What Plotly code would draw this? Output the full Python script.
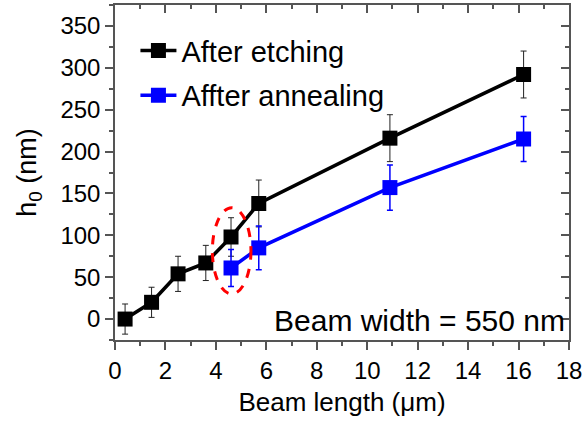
import plotly.graph_objects as go

# Data
x_etch = [0.4, 1.45, 2.5, 3.6, 4.6, 5.7, 10.9, 16.2]
y_etch = [0, 20, 54, 67, 98, 138, 216, 292]
e_etch = [18, 18, 21, 21, 23, 28, 28, 28]

x_anneal = [4.6, 5.7, 10.9, 16.2]
y_anneal = [61, 85, 157, 215]
e_anneal = [22, 26, 27, 27]

x_ticks = [0, 2, 4, 6, 8, 10, 12, 14, 16, 18]
y_ticks = [0, 50, 100, 150, 200, 250, 300, 350]

axis_color = "#555555"
font = "Liberation Sans, Arial, sans-serif"

fig = go.Figure()
fig.add_trace(go.Scatter(
    x=x_etch, y=y_etch, mode="lines+markers", name="After etching", legendgroup="a",
    line=dict(color="black", width=3.5),
    marker=dict(symbol="square", size=15, color="black"),
    error_y=dict(type="data", array=e_etch, color="#222222", thickness=1, width=3),
))
fig.add_trace(go.Scatter(
    x=x_anneal, y=y_anneal, mode="lines+markers", name="Affter annealing", legendgroup="b",
    line=dict(color="#0000ff", width=3.5),
    marker=dict(symbol="square", size=15, color="#0000ff"),
    error_y=dict(type="data", array=e_anneal, color="#0000ff", thickness=1.5, width=3),
))
# invisible trace for mirrored top/right axes
fig.add_trace(go.Scatter(x=[0], y=[0], xaxis="x2", yaxis="y2", mode="markers",
                         marker=dict(opacity=0), showlegend=False, hoverinfo="skip"))

fig.add_shape(type="circle", xref="x", yref="y", x0=3.86, x1=5.39, y0=30, y1=133,
              line=dict(color="red", width=3, dash="dash"))

fig.add_annotation(x=1, y=0, xref="paper", yref="paper", xanchor="right", yanchor="bottom",
                   xshift=-2, yshift=1,
                   text="Beam width = 550 nm", showarrow=False,
                   font=dict(size=30, color="black", family=font))

common = dict(showgrid=False, zeroline=False, showline=True, linecolor=axis_color, linewidth=1.5)

fig.update_layout(
    width=587, height=426,
    margin=dict(l=115, r=15, t=5, b=86),
    paper_bgcolor="white", plot_bgcolor="white",
    font=dict(family=font, color="black", size=24),
    showlegend=True,
    legend=dict(x=0.045, y=0.94, xanchor="left", yanchor="top", bgcolor="rgba(0,0,0,0)",
                font=dict(size=29), tracegroupgap=4, traceorder="grouped", itemwidth=36),
    xaxis=dict(range=[0, 18], tickvals=x_ticks, ticks="outside", ticklen=8, tickwidth=1.5,
               tickcolor=axis_color, tickfont=dict(size=24),
               minor=dict(dtick=1, ticks="outside", ticklen=4, tickcolor=axis_color),
               title=dict(text="Beam length (μm)", font=dict(size=26), standoff=10), **common),
    yaxis=dict(range=[-25, 375], tickvals=y_ticks, ticks="outside", ticklen=8, tickwidth=1.5,
               tickcolor=axis_color, tickfont=dict(size=24),
               minor=dict(dtick=25, tick0=0, ticks="outside", ticklen=4, tickcolor=axis_color),
               title=dict(text="h<sub>0</sub> (nm)", font=dict(size=27), standoff=16), **common),
    xaxis2=dict(range=[0, 18], overlaying="x", side="top", tickvals=x_ticks, ticks="inside",
                ticklen=8, tickwidth=1.5, tickcolor=axis_color, showticklabels=False,
                minor=dict(dtick=1, ticks="inside", ticklen=4, tickcolor=axis_color), **common),
    yaxis2=dict(range=[-25, 375], overlaying="y", side="right", tickvals=y_ticks, ticks="inside",
                ticklen=8, tickwidth=1.5, tickcolor=axis_color, showticklabels=False,
                minor=dict(dtick=25, tick0=0, ticks="inside", ticklen=4, tickcolor=axis_color), **common),
)

fig.write_html("out.html", config={"displayModeBar": False},
               post_script="document.body.style.margin='0px';")
